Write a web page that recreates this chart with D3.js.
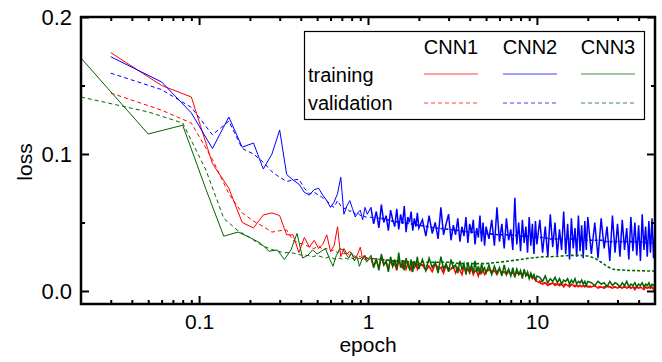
<!DOCTYPE html>
<html>
<head>
<meta charset="utf-8">
<script src="https://cdn.jsdelivr.net/npm/d3@7"></script>
<style>
  body { margin: 0; background: #fff; }
  svg { display: block; font-family: "Liberation Sans", Arial, sans-serif; }
</style>
</head>
<body>
<svg id="chart-svg" width="662" height="362"></svg>
<script>
// epochs for the sparse early part of the runs
const epochsA = [0.03,0.06,0.09,0.12,0.15,0.18,0.21,0.24,0.27,0.30,0.33,0.36,0.39,0.42,0.45,0.48,0.51,0.54,0.57,0.60,0.63,0.66,0.69,0.72,0.75,0.78,0.81,0.84,0.87,0.90,0.93,0.96,0.99]
const epochsB = [0.02,0.05,0.08,0.11,0.14,0.17,0.20,0.23,0.26,0.29,0.32,0.35,0.38,0.41,0.44,0.47,0.50,0.53,0.56,0.59,0.62,0.65,0.68,0.71,0.74,0.77,0.80,0.83,0.86,0.89,0.92,0.95,0.98]
// epochs after 1, where the training curves are dense
const denseEpochs = [
  1.04,1.08,1.12,1.16,1.2,1.24,1.28,1.32,1.36,1.4,1.44,1.48,1.52,1.56,1.6,1.64,1.68,1.72,1.76,1.8,1.84,1.88,1.92,1.96,2,
  2.1,2.2,2.3,2.4,2.5,2.6,2.7,2.8,2.9,3,3.1,3.2,3.3,3.4,3.5,3.6,3.7,3.8,3.9,4,4.1,4.2,4.3,4.4,4.5,4.6,4.7,4.8,4.9,5,
  5.2,5.4,5.6,5.8,6,6.2,6.4,6.6,6.8,7,7.2,7.4,7.6,7.8,8,8.2,8.4,8.6,8.8,9,9.2,9.4,9.6,9.8,10,
  10.4,10.8,11.2,11.6,12,12.4,12.8,13.2,13.6,14,14.4,14.8,15.2,15.6,16,16.4,16.8,17.2,17.6,18,18.4,18.8,19.2,19.6,20,
  21,22,23,24,25,26,27,28,29,30,31,32,33,34,35,36,37,38,39,40,41,42,43,44,45,46,47,48,49,50
]
const valEpochs = [1.2,1.4,1.6,1.8,2,2.5,3,3.5,4,4.5,5,6,7,8,9,10,11,12,14,16,18,20,22,24,26,28,30,35,40,45,50]

// CNN1
const cnn1TrainEarly = [0.174,0.150,0.1416,0.093,0.075,0.050,0.046,0.0555,0.057,0.055,0.041,0.041,0.028,0.039,0.032,0.037,0.031,0.034,0.041,0.029,0.033,0.047,0.025,0.031,0.027,0.029,0.026,0.024,0.027,0.032,0.023,0.026,0.022]
const cnn1TrainDense = [
  0.024,0.018,0.022,0.017,0.025,0.019,0.021,0.016,0.023,0.018,0.020,0.015,0.022,0.019,0.017,0.021,0.016,0.020,0.018,0.015,0.021,0.017,0.019,0.016,0.020,
  0.019,0.015,0.018,0.014,0.020,0.016,0.017,0.013,0.019,0.015,0.016,0.018,0.013,0.017,0.015,0.012,0.018,0.014,0.016,0.013,0.017,0.012,0.015,0.014,0.011,0.016,0.013,0.015,0.012,0.014,
  0.016,0.013,0.015,0.012,0.016,0.013,0.014,0.012,0.015,0.012,0.014,0.011,0.015,0.012,0.013,0.011,0.014,0.012,0.013,0.010,0.012,0.009,0.010,0.008,0.007,
  0.006,0.005,0.006,0.004,0.005,0.006,0.004,0.005,0.004,0.005,0.003,0.005,0.004,0.003,0.005,0.004,0.003,0.004,0.003,0.004,0.003,0.004,0.003,0.004,0.003,
  0.003,0.004,0.002,0.003,0.002,0.004,0.003,0.002,0.003,0.002,0.003,0.002,0.004,0.002,0.003,0.002,0.003,0.001,0.003,0.002,0.003,0.002,0.001,0.003,0.002,0.003,0.002,0.003,0.001,0.002
]
const cnn1ValEarly = [0.1445,0.132,0.1226,0.096,0.071,0.057,0.051,0.047,0.043,0.044,0.0445,0.037,0.035,0.034,0.032,0.031,0.033,0.030,0.031,0.029,0.030,0.028,0.029,0.027,0.028,0.026,0.027,0.025,0.026,0.025,0.024,0.025,0.024]
const cnn1ValDense = [0.023,0.022,0.021,0.020,0.019,0.018,0.017,0.016,0.016,0.015,0.015,0.014,0.013,0.013,0.011,0.008,0.006,0.005,0.005,0.004,0.004,0.0035,0.0035,0.003,0.003,0.003,0.0028,0.0027,0.0025,0.0025,0.0024]

// CNN2
const cnn2TrainEarly = [0.171,0.1526,0.130,0.104,0.127,0.105,0.108,0.089,0.100,0.1175,0.085,0.081,0.078,0.072,0.070,0.074,0.075,0.070,0.066,0.061,0.065,0.071,0.083,0.056,0.062,0.066,0.060,0.054,0.057,0.059,0.052,0.061,0.056]
const cnn2TrainDense = [
  0.061,0.049,0.058,0.046,0.063,0.050,0.055,0.044,0.059,0.052,0.047,0.060,0.045,0.056,0.049,0.062,0.043,0.054,0.050,0.058,0.044,0.053,0.047,0.057,0.046,
  0.052,0.040,0.055,0.042,0.050,0.038,0.061,0.041,0.049,0.056,0.037,0.048,0.041,0.053,0.036,0.047,0.040,0.054,0.035,0.049,0.042,0.052,0.034,0.046,0.039,0.055,0.036,0.050,0.033,0.047,
  0.038,0.052,0.033,0.061,0.036,0.049,0.031,0.053,0.037,0.045,0.030,0.068,0.034,0.050,0.029,0.052,0.035,0.047,0.028,0.054,0.033,0.049,0.027,0.051,0.034,
  0.052,0.028,0.047,0.025,0.056,0.032,0.050,0.026,0.045,0.030,0.058,0.027,0.049,0.023,0.053,0.031,0.046,0.025,0.055,0.029,0.048,0.024,0.051,0.030,0.054,
  0.027,0.050,0.024,0.053,0.031,0.047,0.022,0.055,0.028,0.049,0.025,0.052,0.030,0.046,0.023,0.054,0.029,0.050,0.026,0.048,0.022,0.056,0.030,0.047,0.025,0.051,0.028,0.053,0.024,0.045
]
const cnn2ValEarly = [0.159,0.147,0.134,0.114,0.124,0.104,0.100,0.094,0.087,0.083,0.080,0.081,0.0815,0.075,0.071,0.072,0.070,0.068,0.066,0.063,0.061,0.066,0.062,0.060,0.061,0.058,0.059,0.056,0.057,0.055,0.056,0.054,0.054]
const cnn2ValDense = [0.053,0.051,0.050,0.049,0.048,0.046,0.045,0.044,0.043,0.043,0.042,0.041,0.041,0.040,0.040,0.039,0.039,0.038,0.038,0.038,0.037,0.037,0.037,0.037,0.036,0.036,0.036,0.036,0.036,0.035,0.035]

// CNN3
const cnn3TrainEarly = [0.170,0.1146,0.121,0.074,0.040,0.043,0.039,0.035,0.029,0.030,0.023,0.030,0.042,0.024,0.026,0.030,0.027,0.029,0.031,0.024,0.018,0.026,0.031,0.030,0.027,0.024,0.028,0.022,0.025,0.018,0.023,0.026,0.021]
const cnn3TrainDense = [
  0.026,0.017,0.024,0.015,0.027,0.019,0.022,0.014,0.025,0.018,0.023,0.016,0.028,0.017,0.021,0.015,0.024,0.019,0.016,0.023,0.014,0.022,0.018,0.025,0.016,
  0.023,0.015,0.024,0.017,0.021,0.013,0.025,0.016,0.020,0.014,0.023,0.017,0.019,0.013,0.022,0.016,0.020,0.012,0.021,0.015,0.019,0.013,0.022,0.014,0.018,0.012,0.020,0.015,0.017,0.013,
  0.019,0.012,0.018,0.013,0.017,0.011,0.019,0.012,0.016,0.011,0.017,0.010,0.016,0.012,0.015,0.009,0.016,0.011,0.014,0.009,0.013,0.010,0.012,0.008,0.011,
  0.010,0.007,0.011,0.006,0.009,0.007,0.010,0.006,0.009,0.005,0.008,0.007,0.009,0.005,0.008,0.006,0.009,0.005,0.007,0.006,0.008,0.005,0.007,0.004,0.007,
  0.006,0.004,0.007,0.005,0.006,0.003,0.007,0.004,0.006,0.005,0.003,0.006,0.004,0.007,0.003,0.005,0.004,0.006,0.003,0.005,0.004,0.006,0.003,0.005,0.004,0.006,0.003,0.005,0.004,0.005
]
const cnn3ValEarly = [0.1416,0.1307,0.1226,0.088,0.053,0.044,0.039,0.034,0.031,0.029,0.028,0.028,0.027,0.026,0.026,0.025,0.026,0.025,0.024,0.025,0.024,0.023,0.024,0.023,0.024,0.023,0.024,0.023,0.023,0.024,0.023,0.023,0.024]
const cnn3ValDense = [0.023,0.022,0.022,0.021,0.021,0.021,0.021,0.020,0.020,0.020,0.020,0.021,0.022,0.023,0.024,0.0245,0.025,0.025,0.0255,0.026,0.026,0.0255,0.024,0.021,0.018,0.016,0.0155,0.015,0.0148,0.0146,0.0145]

const netNames = ['CNN1', 'CNN2', 'CNN3']
const netColors = ['#ff0000', '#0000ff', '#006600']
const rowNames = ['training', 'validation']
const xMajorTicks = [0.1, 1, 10]
const xMinorTicks = [0.03,0.04,0.05,0.06,0.07,0.08,0.09,0.2,0.3,0.4,0.5,0.6,0.7,0.8,0.9,2,3,4,5,6,7,8,9,20,30,40]
const yMajorTicks = [0.0, 0.1, 0.2]
const yMinorTicks = [0.05, 0.15]

const Margin = { Left: 81, Right: 655, Top: 17, Bottom: 304 }

const svg = d3.select('#chart-svg')

const x = d3.scaleLog().domain([0.02, 50]).range([Margin.Left, Margin.Right])
const y = d3.scaleLinear().domain([-0.0095, 0.2]).range([Margin.Bottom, Margin.Top])

// series table built from the arrays above
const series = [
  { color: netColors[0], ex: epochsA, et: cnn1TrainEarly, dt: cnn1TrainDense, ev: cnn1ValEarly, dv: cnn1ValDense },
  { color: netColors[1], ex: epochsA, et: cnn2TrainEarly, dt: cnn2TrainDense, ev: cnn2ValEarly, dv: cnn2ValDense },
  { color: netColors[2], ex: epochsB, et: cnn3TrainEarly, dt: cnn3TrainDense, ev: cnn3ValEarly, dv: cnn3ValDense }
]

svg.append('defs').append('clipPath').attr('id', 'plot-clip')
  .append('rect')
  .attr('x', Margin.Left).attr('y', Margin.Top)
  .attr('width', Margin.Right - Margin.Left).attr('height', Margin.Bottom - Margin.Top)

const line = d3.line()
  .x(d => x(d[0]))
  .y(d => y(d[1]))

const plot = svg.append('g').attr('clip-path', 'url(#plot-clip)')

function drawRun(color, pts, n, dashed) {
  // sparse part thin, dense part a little heavier
  plot.append('path')
    .datum(pts.slice(0, n + 1))
    .attr('fill', 'none')
    .attr('stroke', color)
    .attr('stroke-width', 1)
    .attr('stroke-dasharray', dashed ? '4,3' : null)
    .attr('d', line)
  plot.append('path')
    .datum(pts.slice(n))
    .attr('fill', 'none')
    .attr('stroke', color)
    .attr('stroke-width', dashed ? 1.6 : 1.5)
    .attr('stroke-dasharray', dashed ? '3,2' : null)
    .attr('d', line)
}

series.forEach(s => {
  const n = s.ex.length
  drawRun(s.color, d3.zip(s.ex.concat(denseEpochs), s.et.concat(s.dt)), n, false)
  drawRun(s.color, d3.zip(s.ex.concat(valEpochs), s.ev.concat(s.dv)), n, true)
})

// axes, ticks pointing inward
function styleAxis(g, width) {
  g.select('.domain').remove()
  g.selectAll('.tick line').attr('stroke', '#000').attr('stroke-width', width)
  g.selectAll('.tick text').attr('fill', '#000').style('font-size', '21px')
    .style('font-family', '"Liberation Sans", Arial, sans-serif')
}

svg.append('g')
  .attr('transform', 'translate(0,' + Margin.Bottom + ')')
  .call(d3.axisBottom(x).tickValues(xMinorTicks).tickSize(-4).tickFormat(''))
  .call(g => styleAxis(g, 2))
svg.append('g')
  .attr('transform', 'translate(0,' + Margin.Bottom + ')')
  .call(d3.axisBottom(x).tickValues(xMajorTicks).tickSize(-8).tickPadding(10).tickFormat(d => String(d)))
  .call(g => styleAxis(g, 2))
svg.append('g')
  .attr('transform', 'translate(0,' + Margin.Top + ')')
  .call(d3.axisTop(x).tickValues(xMinorTicks).tickSize(-4).tickFormat(''))
  .call(g => styleAxis(g, 2))
svg.append('g')
  .attr('transform', 'translate(0,' + Margin.Top + ')')
  .call(d3.axisTop(x).tickValues(xMajorTicks).tickSize(-8).tickFormat(''))
  .call(g => styleAxis(g, 2))

svg.append('g')
  .attr('transform', 'translate(' + Margin.Left + ',0)')
  .call(d3.axisLeft(y).tickValues(yMinorTicks).tickSize(-4).tickFormat(''))
  .call(g => styleAxis(g, 2))
svg.append('g')
  .attr('transform', 'translate(' + Margin.Left + ',0)')
  .call(d3.axisLeft(y).tickValues(yMajorTicks).tickSize(-8).tickPadding(9).tickFormat(d3.format('.1f')))
  .call(g => styleAxis(g, 2))
  .call(g => g.selectAll('.tick text').style('font-size', '22px').attr('dy', '0.36em'))
svg.append('g')
  .attr('transform', 'translate(' + Margin.Right + ',0)')
  .call(d3.axisRight(y).tickValues(yMinorTicks).tickSize(-4).tickFormat(''))
  .call(g => styleAxis(g, 2))
svg.append('g')
  .attr('transform', 'translate(' + Margin.Right + ',0)')
  .call(d3.axisRight(y).tickValues(yMajorTicks).tickSize(-8).tickFormat(''))
  .call(g => styleAxis(g, 2))

// frame
svg.append('rect')
  .attr('x', Margin.Left).attr('y', Margin.Top)
  .attr('width', Margin.Right - Margin.Left).attr('height', Margin.Bottom - Margin.Top)
  .attr('fill', 'none').attr('stroke', '#000').attr('stroke-width', 2.5)

// axis titles
svg.append('text')
  .attr('x', x(1)).attr('y', 352)
  .attr('text-anchor', 'middle')
  .style('font-size', '21px')
  .text('epoch')
svg.append('text')
  .attr('transform', 'translate(32,162) rotate(-90)')
  .attr('text-anchor', 'middle')
  .style('font-size', '21px')
  .text('loss')

// legend
const legend = svg.append('g')
legend.append('rect')
  .attr('x', 304.5).attr('y', 31.5).attr('width', 340).attr('height', 88)
  .attr('fill', '#fff').attr('stroke', '#000').attr('stroke-width', 1.2)

const colCenters = [451, 530, 608]
netNames.forEach((name, i) => {
  legend.append('text')
    .attr('x', colCenters[i]).attr('y', 54)
    .attr('text-anchor', 'middle')
    .style('font-size', '20px')
    .text(name)
})
rowNames.forEach((name, j) => {
  legend.append('text')
    .attr('x', 308).attr('y', 82 + j * 28)
    .style('font-size', '20px')
    .text(name)
  netColors.forEach((c, i) => {
    legend.append('line')
      .attr('x1', colCenters[i] - 27).attr('x2', colCenters[i] + 27)
      .attr('y1', 74 + j * 29).attr('y2', 74 + j * 29)
      .attr('stroke', c).attr('stroke-width', 1)
      .attr('stroke-opacity', 0.75)
      .attr('stroke-dasharray', j === 1 ? '4,3' : null)
  })
})
</script>
</body>
</html>
